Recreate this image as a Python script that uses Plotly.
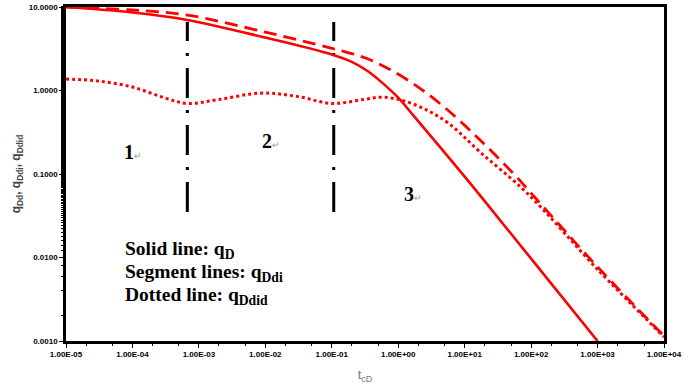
import math
import plotly.graph_objects as go

# ---- data ----
t_solid = [1e-5, 1e-4, 6.7e-4, 1e-2, 0.1, 0.2, 0.35, 0.6, 1.0, 1.7, 10, 25, 100, 1000]
q_solid = [10, 8.6, 7.0, 4.3, 2.7, 2.2, 1.7, 1.2, 0.82, 0.5, 0.093, 0.038, 0.0097, 0.001]

t_dash = [1e-5, 1e-4, 6.7e-4, 1e-2, 0.1, 0.3, 0.69, 2.0, 5.6, 17.5, 55, 100, 1000, 1e4]
q_dash = [10, 9.2, 8.0, 5.0, 3.2, 2.5, 1.85, 1.1, 0.58, 0.25, 0.10, 0.059, 0.0077, 0.00115]

t_dot = [1e-5, 3e-5, 1e-4, 3e-4, 6.7e-4, 2e-3, 8.5e-3, 3e-2, 0.1, 0.3, 0.55, 1.1, 2.5, 5.6, 17.5, 89, 1000, 1e4]
q_dot = [1.37, 1.3, 1.1, 0.82, 0.70, 0.78, 0.93, 0.85, 0.70, 0.78, 0.83, 0.77, 0.60, 0.41, 0.18, 0.058, 0.0072, 0.00112]

vline_x = [6.7e-4, 0.107]
vline_y = [0.035, 6.6]

x_tickvals = [1e-5, 1e-4, 1e-3, 1e-2, 1e-1, 1e0, 1e1, 1e2, 1e3, 1e4]
x_ticktext = ["1.00E-05", "1.00E-04", "1.00E-03", "1.00E-02", "1.00E-01",
              "1.00E+00", "1.00E+01", "1.00E+02", "1.00E+03", "1.00E+04"]
y_tickvals = [0.001, 0.01, 0.1, 1, 10]
y_ticktext = ["0.0010", "0.0100", "0.1000", "1.0000", "10.0000"]

region_labels = ["1", "2", "3"]
region_x = [7.0e-5, 8.4e-3, 1.15]
region_y = [0.183, 0.248, 0.0575]

legend_lines = ["Solid line: q<sub>D</sub>",
                "Segment lines: q<sub>Ddi</sub>",
                "Dotted line: q<sub>Ddid</sub>"]

RED = "#FF0000"
fig = go.Figure()

for vx in vline_x:
    fig.add_trace(go.Scatter(x=[vx, vx], y=vline_y, mode="lines",
                             line=dict(color="black", width=3, dash="30px,12px,3px,12px"),
                             showlegend=False, hoverinfo="skip"))

fig.add_trace(go.Scatter(x=t_solid, y=q_solid, mode="lines", line_shape="spline",
                         line=dict(color=RED, width=2.6), showlegend=False))
fig.add_trace(go.Scatter(x=t_dash, y=q_dash, mode="lines", line_shape="spline",
                         line=dict(color=RED, width=2.8, dash="13px,7px"), showlegend=False))
fig.add_trace(go.Scatter(x=t_dot, y=q_dot, mode="lines", line_shape="spline",
                         line=dict(color=RED, width=3, dash="dot"), showlegend=False))

annotations = []
for lab, xx, yy in zip(region_labels, region_x, region_y):
    annotations.append(dict(x=math.log10(xx), y=math.log10(yy), xref="x", yref="y", showarrow=False,
                            xanchor="left", yanchor="middle",
                            text=f"<b>{lab}</b><span style='font-size:9px;color:#999999'>↵</span>",
                            font=dict(family="Liberation Serif", size=20, color="black")))

leg_y_px = [250, 273, 296]
for txt, ypx in zip(legend_lines, leg_y_px):
    annotations.append(dict(x=(123 - 66) / 598, y=1 - (ypx - 7) / 334, xref="paper", yref="paper",
                            showarrow=False, xanchor="left", yanchor="middle",
                            text=f"<b>{txt}</b>",
                            font=dict(family="Liberation Serif", size=19.5, color="black")))

fig.update_layout(
    width=685, height=386,
    margin=dict(l=66, r=21, t=7, b=45, autoexpand=False),
    paper_bgcolor="white", plot_bgcolor="white",
    annotations=annotations,
    xaxis=dict(type="log", range=[-5, 4], tickvals=x_tickvals,
               ticktext=[f"<b>{s}</b>" for s in x_ticktext],
               showgrid=False, zeroline=False, showline=True, linecolor="black",
               linewidth=2.5, mirror=True, ticks="outside", ticklen=4, tickwidth=1,
               tickcolor="black",
               minor=dict(ticks="outside", ticklen=2, tickcolor="black", showgrid=False),
               tickfont=dict(family="Liberation Sans", size=8, color="black"),
               title=dict(text="t<sub>cD</sub>", font=dict(family="Liberation Sans", size=13, color="#777777"),
                          standoff=12)),
    yaxis=dict(type="log", range=[-3, 1], tickvals=y_tickvals,
               ticktext=[f"<b>{s}</b>" for s in y_ticktext],
               showgrid=False, zeroline=False, showline=True, linecolor="black",
               linewidth=2.5, mirror=True, ticks="outside", ticklen=4, tickwidth=1,
               tickcolor="black",
               minor=dict(ticks="outside", ticklen=2, tickcolor="black", showgrid=False),
               tickfont=dict(family="Liberation Sans", size=8, color="black"),
               title=dict(text="<b>q<sub>Dd</sub>, q<sub>Ddi</sub>, q<sub>Ddid</sub></b>",
                          font=dict(family="Liberation Sans", size=12, color="#444444"),
                          standoff=6)),
)

fig.write_html("out.html", config={"displayModeBar": False},
               post_script="document.body.style.margin='0';document.body.style.padding='0';")
